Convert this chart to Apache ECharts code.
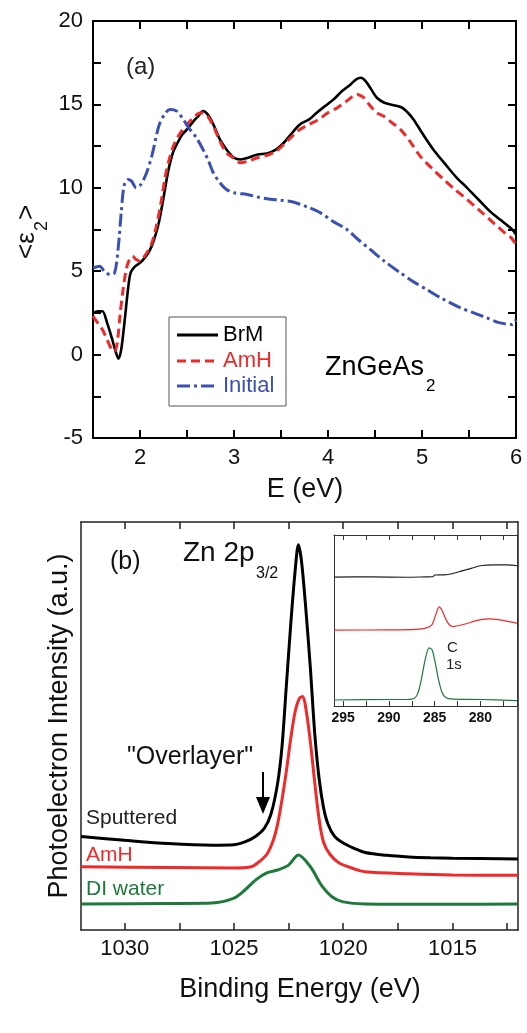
<!DOCTYPE html>
<html><head><meta charset="utf-8">
<script src="https://cdn.jsdelivr.net/npm/echarts@6/dist/echarts.min.js"></script>
<style>html,body{margin:0;padding:0;background:#fff}#c{width:527px;height:1033px}</style>
</head><body><div id="c"></div>
<script>
// ---------- Panel (a): <eps2> vs E (eV) ----------
const brmA = [[1.5,2.5],[1.55,2.6],[1.6,2.6],[1.65,1.9],[1.7,1.0],[1.74,0.2],[1.77,-0.25],[1.8,0.3],[1.84,2.2],[1.87,3.8],[1.9,4.9],[1.95,5.3],[2.0,5.5],[2.05,5.8],[2.1,6.2],[2.15,6.9],[2.2,7.9],[2.25,9.4],[2.3,11.0],[2.35,12.1],[2.4,12.7],[2.45,13.2],[2.5,13.5],[2.57,14.0],[2.62,14.3],[2.67,14.6],[2.72,14.4],[2.78,13.8],[2.85,12.9],[2.92,12.3],[3.0,11.8],[3.07,11.7],[3.15,11.8],[3.25,12.0],[3.35,12.05],[3.45,12.3],[3.53,12.7],[3.62,13.3],[3.7,13.8],[3.8,14.1],[3.88,14.5],[3.97,14.9],[4.06,15.3],[4.15,15.8],[4.24,16.2],[4.3,16.5],[4.35,16.6],[4.4,16.4],[4.46,15.9],[4.52,15.4],[4.6,15.1],[4.7,14.95],[4.79,14.8],[4.85,14.5],[4.91,14.1],[5.0,13.3],[5.12,12.3],[5.25,11.4],[5.37,10.6],[5.48,10.0],[5.6,9.3],[5.72,8.6],[5.83,8.1],[5.92,7.7],[5.96,7.5],[6.0,7.2]];
const amhA = [[1.5,2.3],[1.55,1.9],[1.6,1.5],[1.65,0.9],[1.7,0.3],[1.73,0.2],[1.76,0.8],[1.79,2.5],[1.82,3.9],[1.85,5.0],[1.88,5.6],[1.92,5.9],[1.96,5.7],[2.0,5.6],[2.06,6.0],[2.12,6.6],[2.17,7.6],[2.22,9.0],[2.27,10.7],[2.32,11.9],[2.37,12.7],[2.43,13.3],[2.5,13.8],[2.57,14.2],[2.62,14.45],[2.67,14.5],[2.72,14.3],[2.78,13.7],[2.85,12.8],[2.92,12.1],[2.99,11.8],[3.07,11.5],[3.15,11.6],[3.25,11.8],[3.35,11.95],[3.45,12.2],[3.53,12.6],[3.62,13.1],[3.7,13.5],[3.8,13.8],[3.9,14.1],[4.0,14.5],[4.1,14.8],[4.2,15.2],[4.31,15.6],[4.38,15.4],[4.45,14.9],[4.52,14.5],[4.59,14.3],[4.68,13.9],[4.77,13.5],[4.87,12.8],[4.98,11.9],[5.1,11.2],[5.23,10.5],[5.35,9.9],[5.48,9.3],[5.62,8.6],[5.76,7.9],[5.88,7.3],[5.95,7.0],[6.0,6.6]];
const initialA = [[1.5,5.2],[1.57,5.3],[1.62,5.0],[1.68,4.8],[1.73,4.9],[1.77,6.5],[1.8,8.5],[1.83,10.1],[1.87,10.5],[1.91,10.4],[1.96,10.0],[2.01,10.2],[2.07,10.9],[2.13,12.0],[2.2,13.7],[2.26,14.4],[2.32,14.7],[2.39,14.6],[2.46,14.1],[2.53,13.5],[2.6,13.0],[2.67,12.3],[2.73,11.6],[2.78,10.9],[2.85,10.3],[2.92,9.9],[3.0,9.7],[3.14,9.6],[3.25,9.45],[3.35,9.35],[3.5,9.25],[3.63,9.15],[3.78,8.85],[3.92,8.5],[4.05,8.0],[4.2,7.5],[4.32,6.9],[4.45,6.3],[4.6,5.6],[4.77,4.9],[4.9,4.4],[5.05,3.9],[5.2,3.4],[5.41,2.8],[5.55,2.5],[5.69,2.2],[5.83,1.9],[5.96,1.8],[6.0,2.1]];
const xTicksA = [2,2.5,3,3.5,4,4.5,5,5.5];
const xLabelsA = [2,3,4,5,6];
const yTicksA = [-2.5,0,2.5,5,7.5,10,12.5,15,17.5];
const yLabelsA = [-5,0,5,10,15,20];

// ---------- Panel (b): Zn 2p3/2 XPS (arbitrary units) ----------
const sputteredB = [[1032,22.9],[1030,22.0],[1028,21.2],[1026,20.8],[1025,20.9],[1024.5,21.6],[1024,23.0],[1023.6,25.0],[1023.3,28.5],[1023.0,36],[1022.8,45],[1022.6,60],[1022.4,75],[1022.2,88],[1022.05,94.4],[1021.9,90],[1021.7,78],[1021.5,64],[1021.3,48],[1021.1,37],[1020.9,30],[1020.7,26],[1020.4,23],[1020,21.3],[1019.5,20.0],[1019,19.0],[1018,18.3],[1017,17.9],[1016,17.7],[1015,17.6],[1012,17.4]];
const amhB = [[1032,15.5],[1028,15.3],[1025,15.2],[1024.2,15.5],[1023.9,16.5],[1023.5,18.5],[1023.2,22],[1023,26],[1022.8,32],[1022.6,39],[1022.4,47],[1022.2,53.5],[1022.0,56.8],[1021.85,57.2],[1021.7,54],[1021.5,46],[1021.3,36],[1021.1,27],[1020.9,21.5],[1020.6,18.5],[1020.2,16.5],[1019.5,15],[1019,14.3],[1017,13.8],[1015,13.5],[1012,13.4]];
const diWaterB = [[1032,6.4],[1028,6.5],[1026,6.6],[1025,7.8],[1024.5,9.8],[1024,12.3],[1023.5,14.0],[1023,14.7],[1022.5,15.9],[1022.05,18.4],[1021.5,15.5],[1021,11],[1020.5,8.1],[1020,6.9],[1019,6.4],[1015,6.3],[1012,6.4]];
const xTicksB = [1030,1027.5,1025,1022.5,1020,1017.5,1015,1012.5];
const xLabelsB = [1030,1025,1020,1015];

// ---------- Inset: C 1s ----------
const sputteredC = [[296,75.4],[292,75.5],[288,75.3],[286,75.5],[285.2,75.6],[285,76.6],[284,76.7],[283,77.5],[282,79],[281,80.5],[280,82],[278.5,82.5],[277,82.5],[276,82]];
const amhC = [[296,44.4],[290,44.5],[287,44.8],[286,45.5],[285.3,47.5],[284.9,53],[284.5,58],[284.2,56],[283.8,51],[283.4,47.5],[283,46.5],[282,47.5],[280,50.5],[279,51],[278,50.5],[277,49.5],[276,48.5]];
const diWaterC = [[296,3.5],[290,3.8],[288,3.8],[287.2,4.5],[286.8,8],[286.4,17],[286,28],[285.6,34],[285.3,33],[285,27],[284.6,16],[284.2,8],[283.8,5],[283,4],[280,3.8],[276,3.2]];
const xTicksC = [295,292.5,290,287.5,285,282.5,280,277.5];
const xLabelsC = [295,290,285,280];

const FONT = '"Liberation Sans", Arial, sans-serif';
const BLACK = '#000000', RED = '#ee2a2a', BLUE = '#3a50b4', GREEN = '#1e7a3a';

function axis(grid, min, max, o) {
  return {
    type: 'value', gridIndex: grid, min: min, max: max, position: o.pos,
    inverse: !!o.inverse, splitLine: {show: false},
    axisLine: {show: true, onZero: false, lineStyle: {color: o.lc, width: o.lw}},
    axisTick: o.ticks ? {show: true, inside: true, length: o.tl, customValues: o.ticks, lineStyle: {color: o.lc, width: o.lw}} : {show: false},
    axisLabel: o.labels ? {show: true, customValues: o.labels, margin: o.margin, color: '#111', fontFamily: FONT, fontSize: o.fs, fontWeight: o.fw || 'normal', formatter: function (v) { return String(v); }} : {show: false}
  };
}

const option = {
  animation: false,
  backgroundColor: '#fff',
  grid: [
    {left: 93, top: 21, width: 423, height: 417, show: false},
    {left: 81, top: 522, width: 437, height: 408, show: false},
    {left: 334, top: 535, width: 183, height: 171, show: true, backgroundColor: '#fff', borderWidth: 0}
  ],
  xAxis: [
    axis(0, 1.5, 6, {pos: 'bottom', lc: '#000', lw: 2, ticks: xTicksA, tl: 8, labels: xLabelsA, margin: 9, fs: 22}),
    axis(0, 1.5, 6, {pos: 'top', lc: '#000', lw: 2, ticks: xTicksA, tl: 8}),
    axis(1, 1012, 1032, {pos: 'bottom', inverse: true, lc: '#222', lw: 1.5, ticks: xTicksB, tl: 7, labels: xLabelsB, margin: 8, fs: 22}),
    axis(1, 1012, 1032, {pos: 'top', inverse: true, lc: '#222', lw: 1.5, ticks: xTicksB, tl: 7}),
    axis(2, 276, 296, {pos: 'bottom', inverse: true, lc: '#333', lw: 1, ticks: xTicksC, tl: 5, labels: xLabelsC, margin: 5, fs: 14, fw: 'bold'}),
    axis(2, 276, 296, {pos: 'top', inverse: true, lc: '#333', lw: 1, ticks: xTicksC, tl: 5})
  ],
  yAxis: [
    axis(0, -5, 20, {pos: 'left', lc: '#000', lw: 2, ticks: yTicksA, tl: 8, labels: yLabelsA, margin: 10, fs: 22}),
    axis(0, -5, 20, {pos: 'right', lc: '#000', lw: 2, ticks: yTicksA, tl: 8}),
    axis(1, 0, 100, {pos: 'left', lc: '#222', lw: 1.5}),
    axis(1, 0, 100, {pos: 'right', lc: '#222', lw: 1.5}),
    axis(2, 0, 100, {pos: 'left', lc: '#333', lw: 1}),
    axis(2, 0, 100, {pos: 'right', lc: '#333', lw: 1})
  ],
  series: [
    {name: 'BrM', type: 'line', xAxisIndex: 0, yAxisIndex: 0, data: brmA, showSymbol: false, smooth: 0.3, lineStyle: {color: BLACK, width: 2.6}},
    {name: 'AmH', type: 'line', xAxisIndex: 0, yAxisIndex: 0, data: amhA, showSymbol: false, smooth: 0.3, lineStyle: {color: RED, width: 3, type: [9, 5]}},
    {name: 'Initial', type: 'line', xAxisIndex: 0, yAxisIndex: 0, data: initialA, showSymbol: false, smooth: 0.3, lineStyle: {color: BLUE, width: 3, type: [13, 4, 3, 4]}},
    {name: 'Sputtered', type: 'line', xAxisIndex: 2, yAxisIndex: 2, data: sputteredB, showSymbol: false, smooth: 0.3, lineStyle: {color: BLACK, width: 3}},
    {name: 'AmH XPS', type: 'line', xAxisIndex: 2, yAxisIndex: 2, data: amhB, showSymbol: false, smooth: 0.3, lineStyle: {color: RED, width: 3}},
    {name: 'DI water', type: 'line', xAxisIndex: 2, yAxisIndex: 2, data: diWaterB, showSymbol: false, smooth: 0.3, lineStyle: {color: GREEN, width: 3}},
    {name: 'C1s Sputtered', type: 'line', xAxisIndex: 4, yAxisIndex: 4, data: sputteredC, showSymbol: false, smooth: 0.3, lineStyle: {color: '#222', width: 1.2}},
    {name: 'C1s AmH', type: 'line', xAxisIndex: 4, yAxisIndex: 4, data: amhC, showSymbol: false, smooth: 0.3, lineStyle: {color: RED, width: 1.2}},
    {name: 'C1s DI water', type: 'line', xAxisIndex: 4, yAxisIndex: 4, data: diWaterC, showSymbol: false, smooth: 0.3, lineStyle: {color: GREEN, width: 1.2}}
  ],
  graphic: [
    // panel (a) annotations
    {type: 'text', x: 126, y: 67, style: {text: '(a)', font: '24px ' + FONT, fill: '#222', align: 'left', verticalAlign: 'middle'}},
    {type: 'rect', z: 10, shape: {x: 169, y: 317, width: 117, height: 89}, style: {fill: '#fff', stroke: '#555', lineWidth: 1}},
    {type: 'line', z: 11, shape: {x1: 177, y1: 335, x2: 218, y2: 335}, style: {stroke: BLACK, lineWidth: 3}},
    {type: 'line', z: 11, shape: {x1: 177, y1: 361, x2: 218, y2: 361}, style: {stroke: RED, lineWidth: 3, lineDash: [9, 5]}},
    {type: 'line', z: 11, shape: {x1: 177, y1: 386, x2: 218, y2: 386}, style: {stroke: BLUE, lineWidth: 3, lineDash: [13, 4, 3, 4]}},
    {type: 'text', z: 11, x: 223, y: 335, style: {text: 'BrM', font: '22px ' + FONT, fill: BLACK, verticalAlign: 'middle'}},
    {type: 'text', z: 11, x: 223, y: 361, style: {text: 'AmH', font: '22px ' + FONT, fill: RED, verticalAlign: 'middle'}},
    {type: 'text', z: 11, x: 223, y: 386, style: {text: 'Initial', font: '22px ' + FONT, fill: BLUE, verticalAlign: 'middle'}},
    {type: 'text', x: 325, y: 368, style: {text: 'ZnGeAs', font: '27px ' + FONT, fill: BLACK, verticalAlign: 'middle'}},
    {type: 'text', x: 426, y: 386, style: {text: '2', font: '17px ' + FONT, fill: BLACK, verticalAlign: 'middle'}},
    {type: 'text', x: 305, y: 490, style: {text: 'E (eV)', font: '27px ' + FONT, fill: '#111', align: 'center', verticalAlign: 'middle'}},
    {type: 'group', x: 27, y: 232, rotation: Math.PI / 2, children: [
      {type: 'text', x: -27, y: 0, style: {text: '<ε', font: '26px ' + FONT, fill: '#111', verticalAlign: 'middle'}},
      {type: 'text', x: 1, y: 15, style: {text: '2', font: '18px ' + FONT, fill: '#111', verticalAlign: 'middle'}},
      {type: 'text', x: 12, y: 0, style: {text: '>', font: '26px ' + FONT, fill: '#111', verticalAlign: 'middle'}}
    ]},
    // panel (b) annotations
    {type: 'text', x: 110, y: 562, style: {text: '(b)', font: '25px ' + FONT, fill: '#111', verticalAlign: 'middle'}},
    {type: 'text', x: 183, y: 553, style: {text: 'Zn 2p', font: '28px ' + FONT, fill: '#111', verticalAlign: 'middle'}},
    {type: 'text', x: 256, y: 574, style: {text: '3/2', font: '16px ' + FONT, fill: '#111', verticalAlign: 'middle'}},
    {type: 'text', x: 127, y: 757, style: {text: '"Overlayer"', font: '25px ' + FONT, fill: '#111', verticalAlign: 'middle'}},
    {type: 'line', shape: {x1: 263, y1: 772, x2: 263, y2: 800}, style: {stroke: '#000', lineWidth: 2}},
    {type: 'polygon', shape: {points: [[256, 797], [270, 797], [263, 814]]}, style: {fill: '#000'}},
    {type: 'text', x: 86, y: 818, style: {text: 'Sputtered', font: '21px ' + FONT, fill: '#222', verticalAlign: 'middle'}},
    {type: 'text', x: 86, y: 855, style: {text: 'AmH', font: '21px ' + FONT, fill: RED, verticalAlign: 'middle'}},
    {type: 'text', x: 86, y: 889, style: {text: 'DI water', font: '21px ' + FONT, fill: GREEN, verticalAlign: 'middle'}},
    {type: 'text', z: 20, x: 447, y: 648, style: {text: 'C', font: '15px ' + FONT, fill: '#222', verticalAlign: 'middle'}},
    {type: 'text', z: 20, x: 446, y: 665, style: {text: '1s', font: '15px ' + FONT, fill: '#222', verticalAlign: 'middle'}},
    {type: 'text', x: 300, y: 990, style: {text: 'Binding Energy (eV)', font: '27px ' + FONT, fill: '#111', align: 'center', verticalAlign: 'middle'}},
    {type: 'text', x: 60, y: 726, rotation: Math.PI / 2, style: {text: 'Photoelectron Intensity (a.u.)', font: '27px ' + FONT, fill: '#111', align: 'center', verticalAlign: 'middle'}}
  ]
};
const chart = echarts.init(document.getElementById('c'), null, {renderer: 'canvas'});
chart.setOption(option);
</script></body></html>
